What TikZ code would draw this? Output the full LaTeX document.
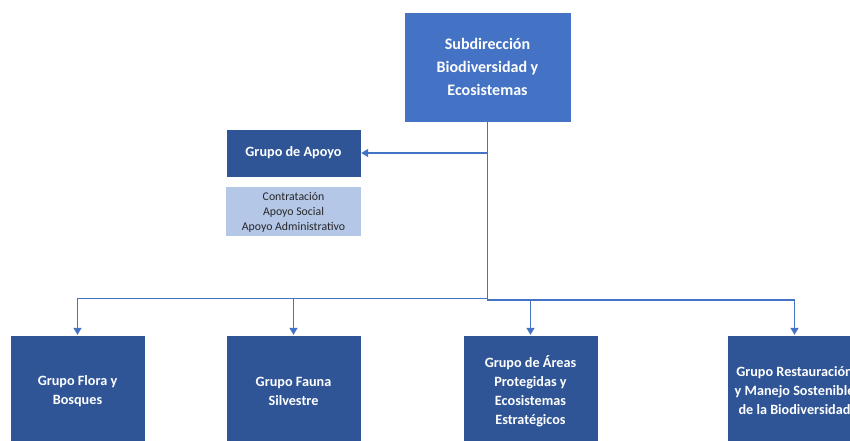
\documentclass[tikz,border=0pt]{standalone}
\usepackage{fontspec}
\setmainfont{Carlito}
\usepackage{xcolor}
\usetikzlibrary{arrows.meta, positioning}

\definecolor{azulclaro}{HTML}{4472C4}
\definecolor{azuloscuro}{HTML}{2F5597}
\definecolor{azulpalido}{HTML}{B4C7E7}

\tikzstyle{jefatura} = [rectangle, minimum width=167pt, minimum height=110pt, text centered, align=center, draw=white, fill=azulclaro, text=white, font=\fontsize{16}{23}\selectfont\bfseries]
\tikzstyle{grupo} = [rectangle, minimum width=135pt, minimum height=112pt, text centered, align=center, draw=white, fill=azuloscuro, text=white, font=\fontsize{14.2}{19}\selectfont\bfseries]
\tikzstyle{apoyo} = [rectangle, minimum width=135pt, minimum height=48pt, text centered, draw=white, fill=azuloscuro, text=white, font=\fontsize{14.2}{17}\selectfont\bfseries]
\tikzstyle{funciones} = [rectangle, minimum width=135pt, minimum height=49pt, text centered, align=center, fill=azulpalido, text=black!85, font=\fontsize{11.8}{15}\selectfont]
\tikzstyle{arrow} = [line width=1.3pt, draw=azulclaro, -{Triangle[width=8pt,length=7pt]}]

\begin{document}
\begin{tikzpicture}[x=1pt, y=-1pt]

        \useasboundingbox (0,0) rectangle (850,440);
        \clip (0,0) rectangle (850,440);

        % Nodes
        \node (subdir) [jefatura] at (487.5,67) {Subdirección\\Biodiversidad y\\Ecosistemas};
        \node (grupoapoyo) [apoyo] at (293.5,153) {Grupo de Apoyo};
        \node (funcapoyo) [funciones, below=10pt of grupoapoyo] {Contratación\\Apoyo Social\\Apoyo Administrativo};
        \node (flora) [grupo] at (77.5,391) {Grupo Flora y\\Bosques};
        \node (fauna) [grupo] at (293.5,391) {Grupo Fauna\\Silvestre};
        \node (areas) [grupo] at (530.5,391) {Grupo de Áreas\\Protegidas y\\Ecosistemas\\Estratégicos};
        \node (restauracion) [grupo] at (794.5,391) {Grupo Restauración\\y Manejo Sostenible\\de la Biodiversidad};

        \coordinate (ramaizq) at (487.5,298.5);
        \coordinate (ramader) at (487.5,300);

        % Arrows
        \draw [arrow] (subdir.south) |- (grupoapoyo.east);
        \draw [arrow] (subdir.south) -- (ramaizq) -| (flora.north);
        \draw [arrow] (subdir.south) -- (ramaizq) -| (fauna.north);
        \draw [arrow] (subdir.south) -- (ramader) -| (areas.north);
        \draw [arrow] (subdir.south) -- (ramader) -| (restauracion.north);

\end{tikzpicture}
\end{document}
